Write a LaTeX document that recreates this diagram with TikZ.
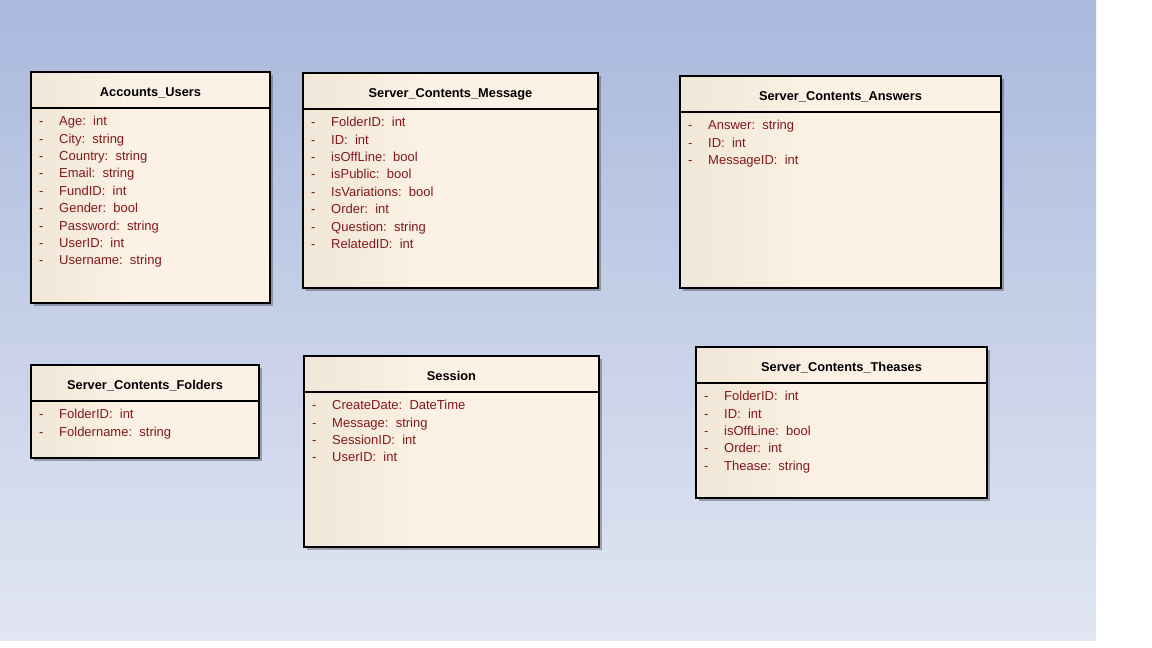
\documentclass[tikz,border=0pt]{standalone}
\usepackage{fontspec}
\setmainfont{Liberation Sans}
\definecolor{bgtop}{HTML}{A9B9DD}
\definecolor{bgbot}{HTML}{E2E6F2}
\definecolor{bxL}{HTML}{E4DAC8}
\definecolor{bxR}{HTML}{FBF1E4}
\definecolor{attrc}{HTML}{821818}
\pgfdeclarehorizontalshading{boxshade}{100bp}{color(0bp)=(bxL); color(45bp)=(bxR); color(100bp)=(bxR)}
\tikzset{
  classbox/.style={draw=black, line width=1.2pt, shading=boxshade, inner sep=0pt, outer sep=0pt},
  shadowbox/.style={fill=black, opacity=0.28},
  boxline/.style={draw=black, line width=1.2pt},
  titletext/.style={font=\fontsize{12.8}{14}\selectfont\bfseries, text=black, inner sep=0pt},
  attrtext/.style={font=\fontsize{13}{15}\selectfont, text=attrc, inner sep=0pt},
}
\newcommand\umlclass[7]{%
  \fill[shadowbox] (#2+3,#3+3) rectangle ++(#4,#5);
  \node[classbox, minimum width=#4pt, minimum height=#5pt, anchor=north west] (#1) at (#2,#3) {};
  \draw[boxline] ([yshift=-36pt]#1.north west) -- ([yshift=-36pt]#1.north east);
  \node[titletext, anchor=base] (#1-title) at ([yshift=-24.5pt]#1.north) {#6};
  \foreach \a [count=\i] in {#7} {
    \pgfmathsetmacro\yy{-53.7-(\i-1)*17.4}
    \node[attrtext, anchor=base west] (#1-a\i) at ([xshift=8pt, yshift=\yy pt]#1.north west) {\makebox[20pt][l]{-}\a};
  }%
}
\begin{document}
\begin{tikzpicture}[x=1pt,y=-1pt]
\useasboundingbox (0,0) rectangle (1152,648);
\fill[white] (0,0) rectangle (1152,648);
\shade[top color=bgtop, bottom color=bgbot] (0,0) rectangle (1096,640);
\umlclass{au}{31}{72}{239}{231}{Accounts\_Users}{Age:\ \ int, City:\ \ string, Country:\ \ string, Email:\ \ string, FundID:\ \ int, Gender:\ \ bool, Password:\ \ string, UserID:\ \ int, Username:\ \ string}
\umlclass{scm}{303}{73}{295}{215}{Server\_Contents\_Message}{FolderID:\ \ int, ID:\ \ int, isOffLine:\ \ bool, isPublic:\ \ bool, IsVariations:\ \ bool, Order:\ \ int, Question:\ \ string, RelatedID:\ \ int}
\umlclass{sca}{680}{76}{321}{212}{Server\_Contents\_Answers}{Answer:\ \ string, ID:\ \ int, MessageID:\ \ int}
\umlclass{scf}{31}{365}{228}{93}{Server\_Contents\_Folders}{FolderID:\ \ int, Foldername:\ \ string}
\umlclass{ses}{304}{356}{295}{191}{Session}{CreateDate:\ \ DateTime, Message:\ \ string, SessionID:\ \ int, UserID:\ \ int}
\umlclass{sct}{696}{347}{291}{151}{Server\_Contents\_Theases}{FolderID:\ \ int, ID:\ \ int, isOffLine:\ \ bool, Order:\ \ int, Thease:\ \ string}
\end{tikzpicture}
\end{document}
